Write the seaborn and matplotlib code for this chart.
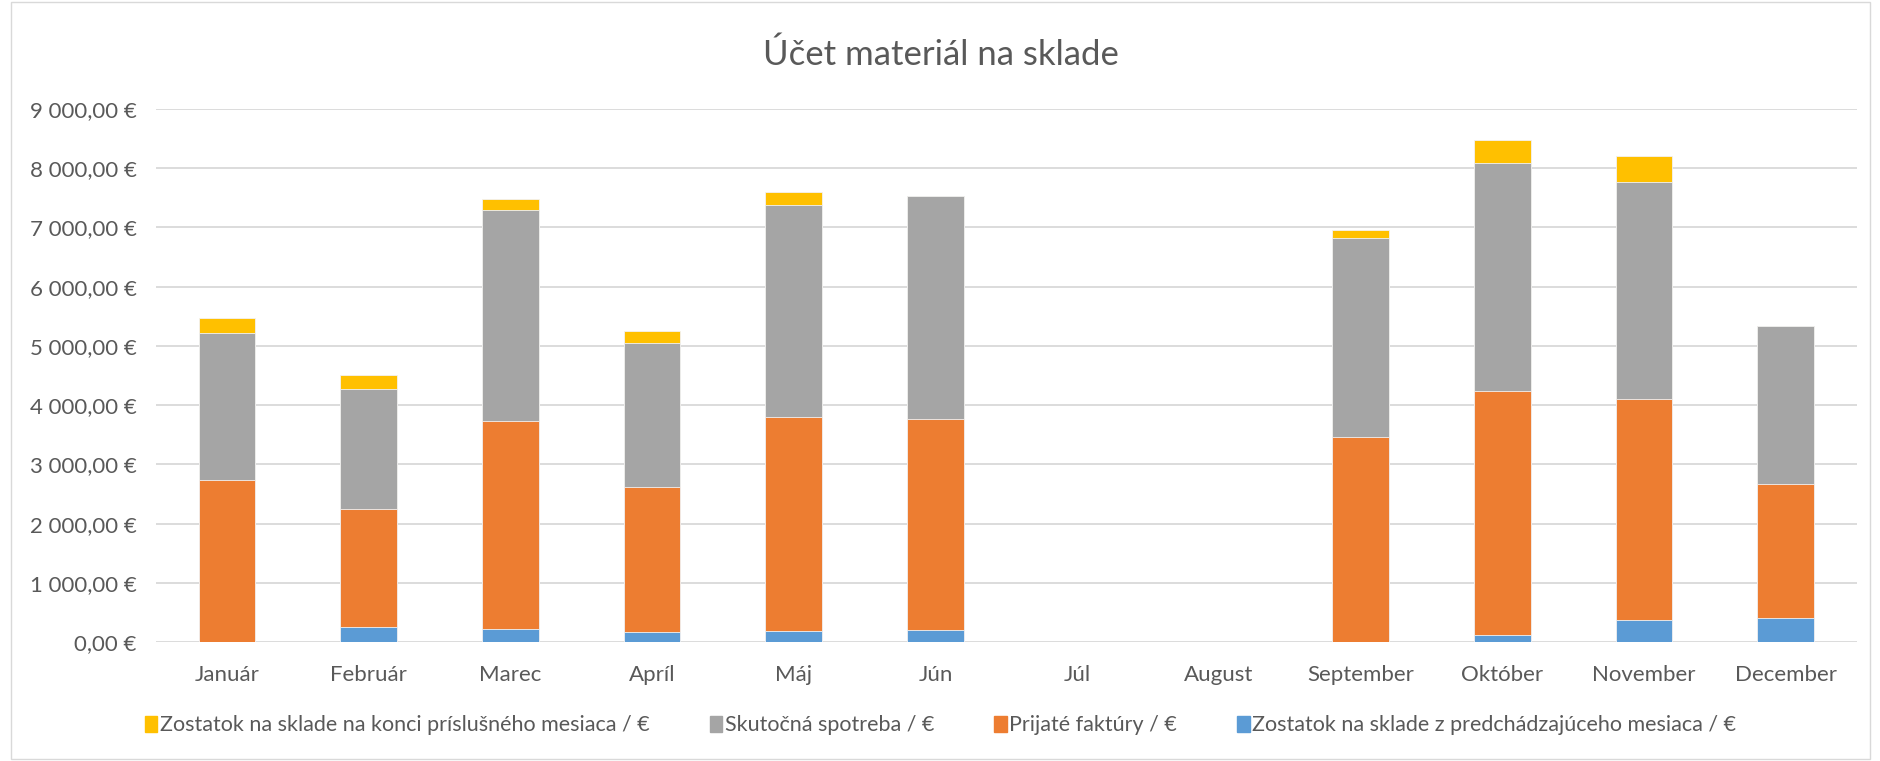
import numpy as np
import pandas as pd
import matplotlib
matplotlib.use("Agg")
import matplotlib.pyplot as plt
import seaborn as sns
from matplotlib.patches import Patch, Rectangle
from matplotlib.ticker import FuncFormatter

mesiace = ['Január', 'Február', 'Marec', 'Apríl', 'Máj', 'Jún', 'Júl', 'August',
           'September', 'Október', 'November', 'December']
zostatok_pred = [0, 252, 228, 178, 191, 209, 0, 0, 0, 129, 381, 418]
prijate_faktury = [2731, 1999, 3499, 2448, 3604, 3555, 0, 0, 3469, 4102, 3715, 2245]
spotreba = [2484, 2029, 3567, 2423, 3585, 3764, 0, 0, 3351, 3850, 3672, 2675]
zostatok_koniec = [259, 234, 178, 209, 209, 0, 0, 0, 136, 388, 430, 0]

serie = ['Zostatok na sklade z predchádzajúceho mesiaca / €', 'Prijaté faktúry / €',
         'Skutočná spotreba / €', 'Zostatok na sklade na konci príslušného mesiaca / €']
farby = ['#5B9BD5', '#ED7D31', '#A5A5A5', '#FFC000']

df = pd.DataFrame({'mesiac': mesiace, serie[0]: zostatok_pred, serie[1]: prijate_faktury,
                   serie[2]: spotreba, serie[3]: zostatok_koniec})
# kumulativne sumy - kreslime od najvyssej vrstvy dole
kum = df[serie].cumsum(axis=1)

sns.set_style('white')
plt.rcParams['font.family'] = ['Lato', 'DejaVu Sans']
text_c = '#595959'

fig = plt.figure(figsize=(18.81, 7.61), dpi=100)
ax = fig.add_axes([0.083, 0.156, 0.904, 0.701])

for i in range(3, -1, -1):
    sns.barplot(x=df['mesiac'], y=kum[serie[i]], color=farby[i], width=0.4,
                saturation=1, ax=ax, zorder=3, edgecolor='#F2F2F2', linewidth=0.6)

ax.set_ylim(0, 9000)
ax.set_yticks(np.arange(0, 9001, 1000))
ax.yaxis.set_major_formatter(FuncFormatter(
    lambda v, p: f'{v:,.2f} €'.replace(',', ' ').replace('.', ',')))
ax.grid(axis='y', color='#D9D9D9', linewidth=1.3, zorder=0)
ax.set_axisbelow(True)
for s in ax.spines.values():
    s.set_visible(False)
ax.tick_params(axis='both', length=0, labelsize=16, labelcolor=text_c)
ax.tick_params(axis='y', pad=14)
ax.tick_params(axis='x', pad=16)
ax.set_xlabel('')
ax.set_ylabel('')

fig.text(0.5, 0.928, 'Účet materiál na sklade', ha='center', va='center',
         fontsize=25, color=text_c)

handles = [Patch(color=farby[i], label=serie[i]) for i in range(3, -1, -1)]
fig.legend(handles=handles, loc='center', bbox_to_anchor=(0.5, 0.047), ncol=4,
           frameon=False, fontsize=15.5, labelcolor=text_c, handlelength=0.6,
           handleheight=0.8, handletextpad=0.1, columnspacing=2.8)

fig.patches.append(Rectangle((0.006, 0.003), 0.988, 0.994, transform=fig.transFigure,
                             fill=False, edgecolor='#D9D9D9', linewidth=1))

fig.savefig('out.png', dpi=100)
